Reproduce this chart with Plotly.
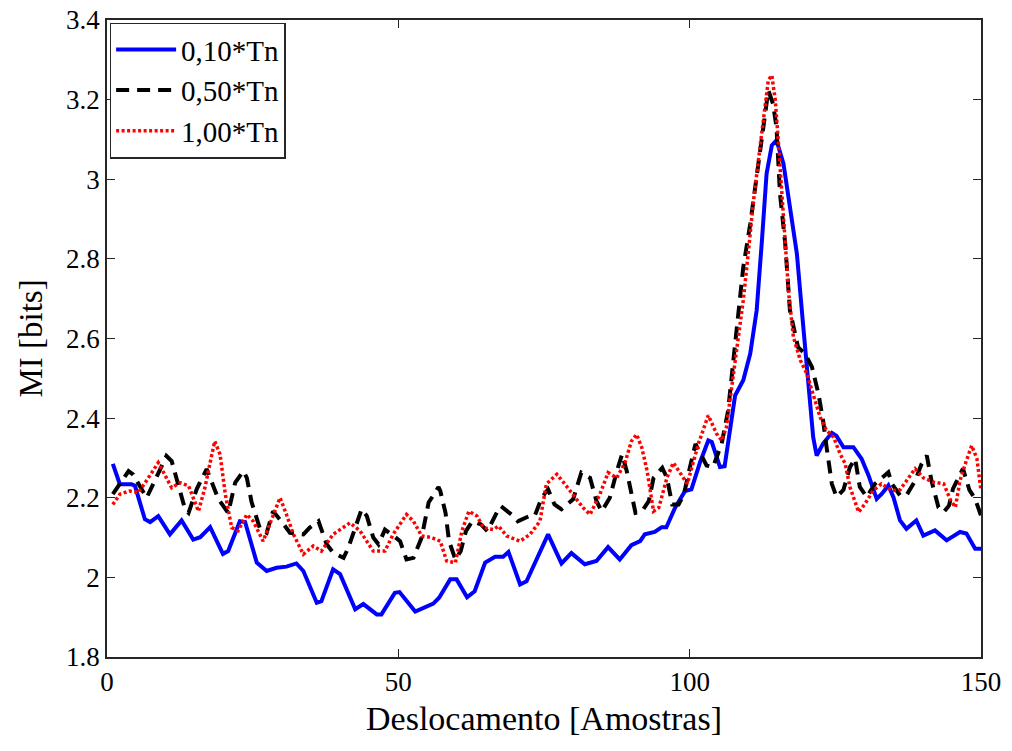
import plotly.graph_objects as go

# ---------------- data ----------------
blue_x = [1, 2.2, 4.2, 4.8, 6.5, 7.4, 8.8, 10.8, 12.8, 14.8, 16, 17.7, 19.9, 20.8, 22.8, 23.7,
          25.7, 27.4, 29.1, 30.8, 32.5, 33.7, 36, 36.8, 38.8, 40, 42.6, 44, 46.3, 47.1, 49.4,
          50.2, 52.9, 56, 57, 58.9, 60, 61.8, 63.1, 64.9, 66.6, 68, 68.9, 70.9, 72, 75.7, 78,
          79.7, 82, 84, 86, 88, 90, 91.5, 92.3, 94, 95.2, 96, 97.5, 99.2, 100.3, 101.8, 103.2,
          103.8, 105.2, 106, 107.8, 109.2, 110.4, 111.5, 112.4, 113.2, 114.1, 114.9, 116.1,
          117.2, 118.4, 119.5, 120.4, 121.2, 121.8, 122.9, 124.4, 125.2, 126.4, 128.1, 129.5,
          130.7, 132.1, 133, 134.1, 135, 136.1, 137.2, 138.9, 140.1, 142.1, 144.1, 146.4,
          147.5, 149, 150]
blue_y = [2.285, 2.234, 2.234, 2.23, 2.146, 2.139, 2.154, 2.108, 2.143, 2.095, 2.101, 2.126,
          2.059, 2.066, 2.141, 2.139, 2.037, 2.016, 2.024, 2.027, 2.035, 2.016, 1.936, 1.94,
          2.02, 2.008, 1.92, 1.933, 1.907, 1.907, 1.961, 1.963, 1.914, 1.934, 1.949, 1.995,
          1.995, 1.95, 1.965, 2.037, 2.052, 2.052, 2.064, 1.982, 1.99, 2.108, 2.035, 2.061,
          2.033, 2.041, 2.076, 2.045, 2.081, 2.091, 2.108, 2.114, 2.126, 2.126, 2.175, 2.217,
          2.221, 2.29, 2.344, 2.34, 2.277, 2.279, 2.457, 2.495, 2.562, 2.671, 2.846, 3.014,
          3.085, 3.098, 3.039, 2.93, 2.813, 2.629, 2.47, 2.352, 2.306, 2.336, 2.363, 2.355,
          2.327, 2.327, 2.298, 2.256, 2.197, 2.21, 2.231, 2.2, 2.143, 2.122, 2.143, 2.105,
          2.118, 2.093, 2.114, 2.11, 2.072, 2.072]

black_x = [1, 3.7, 4.5, 6.8, 8.2, 10.2, 11.1, 12.2, 13.4, 14, 15.4, 17.1, 18.5, 19.1, 20.8, 22,
           23.4, 24, 24.8, 26.3, 27.4, 28.5, 29.7, 31.4, 33.7, 34.8, 36.3, 37.7, 38.8, 40.6,
           41.4, 43.7, 44.6, 45.7, 46.6, 47.7, 49.2, 50.3, 51.4, 52.6, 54, 55.2, 56.9, 57.2,
           58.1, 58.7, 59.8, 60.7, 61.6, 62.7, 64.2, 65.3, 67, 67.6, 69.4, 70.5, 72.5, 73.4,
           74.6, 75.7, 76.8, 78, 80, 81.4, 82.9, 84, 84.9, 86.3, 87.5, 88.4, 89.2, 90.7, 91.8,
           93, 93.8, 95.3, 96.1, 97, 98.1, 99, 100.1, 101, 102.9, 104, 105.5, 106.6, 107.5,
           108.3, 109.2, 110.4, 111.5, 112.6, 113.5, 114.3, 114.9, 115.5, 116.4, 117.2, 118.6,
           119.8, 121, 122.1, 122.9, 123.5, 124.4, 125.2, 126.4, 127.5, 128.4, 129.2, 130.4,
           131.8, 134.1, 134.7, 136.1, 137.2, 138.7, 139.8, 140.7, 141.5, 142.7, 143.6, 144.5,
           145.2, 146.9, 148, 149, 150]
black_y = [2.209, 2.267, 2.258, 2.2, 2.243, 2.305, 2.292, 2.233, 2.171, 2.162, 2.222, 2.272,
           2.222, 2.197, 2.162, 2.238, 2.267, 2.25, 2.19, 2.12, 2.112, 2.166, 2.145, 2.112,
           2.108, 2.125, 2.141, 2.083, 2.062, 2.049, 2.074, 2.171, 2.154, 2.1, 2.083, 2.12,
           2.104, 2.091, 2.045, 2.049, 2.1, 2.188, 2.227, 2.217, 2.162, 2.091, 2.045, 2.066,
           2.116, 2.141, 2.133, 2.116, 2.166, 2.179, 2.158, 2.141, 2.154, 2.154, 2.2, 2.221,
           2.183, 2.171, 2.196, 2.263, 2.25, 2.192, 2.166, 2.2, 2.267, 2.309, 2.267, 2.162,
           2.166, 2.192, 2.25, 2.275, 2.25, 2.183, 2.183, 2.208, 2.28, 2.335, 2.281, 2.277,
           2.336, 2.419, 2.545, 2.662, 2.779, 2.888, 3.006, 3.131, 3.223, 3.19, 3.131, 2.964,
           2.838, 2.671, 2.578, 2.562, 2.528, 2.461, 2.394, 2.327, 2.235, 2.202, 2.22, 2.277,
           2.298, 2.227, 2.202, 2.235, 2.264, 2.235, 2.206, 2.206, 2.243, 2.285, 2.306, 2.243,
           2.176, 2.164, 2.18, 2.223, 2.273, 2.22, 2.197, 2.155]

red_x = [1, 2.2, 3.9, 5.4, 7.1, 8.8, 10.2, 11.1, 12.5, 14, 15.7, 16.8, 18, 18.5, 19.4, 20.3,
         21.4, 22.5, 24, 25.1, 26.8, 28.5, 29.7, 30.8, 32, 33.7, 35.4, 36.8, 38.8, 41.7, 43.4,
         45.7, 47.7, 49.1, 51.4, 52.6, 54, 55.7, 57.2, 58.3, 59.8, 60.9, 62.1, 63.5, 64.6,
         66.3, 67.2, 68.6, 70.9, 72.6, 74.3, 75.4, 77.2, 78.6, 80.3, 81.7, 82.9, 84.6, 86,
         87.5, 88.9, 90, 90.9, 91.8, 92.7, 93.8, 94.7, 96.1, 97.2, 98.1, 99.6, 101.5, 103.2,
         104.6, 105.5, 106.3, 107.2, 108.1, 109.2, 110.1, 110.9, 111.8, 112.7, 113.5, 114.1,
         114.7, 115.2, 115.8, 116.4, 117, 117.8, 119, 120.1, 121.2, 122.4, 123.5, 124.7,
         125.8, 126.7, 127.5, 128.4, 129, 130.1, 131.5, 132.9, 134.7, 136.1, 137.6, 138.7,
         140.1, 141.9, 143.6, 144.8, 145.6, 146.4, 147.3, 148.4, 149.3, 150]
red_y = [2.183, 2.209, 2.217, 2.213, 2.25, 2.288, 2.25, 2.225, 2.238, 2.23, 2.166, 2.225,
         2.309, 2.342, 2.309, 2.209, 2.125, 2.117, 2.158, 2.141, 2.091, 2.158, 2.2, 2.158,
         2.108, 2.058, 2.079, 2.066, 2.108, 2.137, 2.117, 2.066, 2.066, 2.108, 2.158, 2.141,
         2.104, 2.1, 2.091, 2.041, 2.037, 2.116, 2.166, 2.154, 2.125, 2.12, 2.129, 2.104,
         2.091, 2.108, 2.141, 2.234, 2.259, 2.234, 2.2, 2.175, 2.158, 2.209, 2.263, 2.25,
         2.288, 2.342, 2.359, 2.325, 2.267, 2.166, 2.175, 2.25, 2.288, 2.267, 2.235, 2.336,
         2.407, 2.361, 2.344, 2.377, 2.478, 2.587, 2.696, 2.821, 2.939, 3.048, 3.156, 3.249,
         3.261, 3.198, 3.098, 2.964, 2.83, 2.713, 2.604, 2.545, 2.512, 2.461, 2.402, 2.369,
         2.352, 2.311, 2.285, 2.227, 2.185, 2.164, 2.185, 2.218, 2.235, 2.218, 2.22, 2.252,
         2.273, 2.25, 2.239, 2.235, 2.193, 2.176, 2.243, 2.285, 2.331, 2.298, 2.218]

series_names = ["0,10*Tn", "0,50*Tn", "1,00*Tn"]

x_tick_vals = [0, 50, 100, 150]
x_tick_text = ["0", "50", "100", "150"]
y_tick_vals = [1.8, 2.0, 2.2, 2.4, 2.6, 2.8, 3.0, 3.2, 3.4]
y_tick_text = ["1.8", "2", "2.2", "2.4", "2.6", "2.8", "3", "3.2", "3.4"]

x_title = "Deslocamento [Amostras]"
y_title = "MI [bits]"

# ---------------- figure ----------------
FONT = "Liberation Serif, Times New Roman, serif"
AXC = "#262626"

fig = go.Figure()
fig.add_trace(go.Scatter(x=blue_x, y=blue_y, mode="lines", name=series_names[0],
                         line=dict(color="#0000ff", width=4)))
fig.add_trace(go.Scatter(x=black_x, y=black_y, mode="lines", name=series_names[1],
                         line=dict(color="#000000", width=4, dash="13px,8px")))
fig.add_trace(go.Scatter(x=red_x, y=red_y, mode="lines", name=series_names[2],
                         line=dict(color="#ff0000", width=3.5, dash="3px,2.5px")))

axis_common = dict(
    showgrid=False, zeroline=False, showline=True, linecolor=AXC, linewidth=1.5,
    mirror="ticks", ticks="inside", ticklen=8, tickwidth=1.2, tickcolor=AXC,
    tickfont=dict(family=FONT, size=27, color="#000000"),
)

fig.update_layout(
    width=1012, height=751,
    margin=dict(l=107, r=31, t=20, b=94, autoexpand=False),
    paper_bgcolor="white", plot_bgcolor="white",
    font=dict(family=FONT, color="#000000"),
    xaxis=dict(range=[0, 150], tickvals=x_tick_vals, ticktext=x_tick_text,
               title=dict(text=x_title, font=dict(family=FONT, size=34), standoff=10),
               **axis_common),
    yaxis=dict(range=[1.8, 3.4], tickvals=y_tick_vals, ticktext=y_tick_text,
               title=dict(text=y_title, font=dict(family=FONT, size=33), standoff=14),
               **axis_common),
    legend=dict(x=0.003, y=0.996, xanchor="left", yanchor="top",
                bgcolor="white", bordercolor=AXC, borderwidth=1.5,
                font=dict(family=FONT, size=29, color="#000000"),
                itemwidth=60, tracegroupgap=0),
    showlegend=True,
)

fig.write_html("out.html")
